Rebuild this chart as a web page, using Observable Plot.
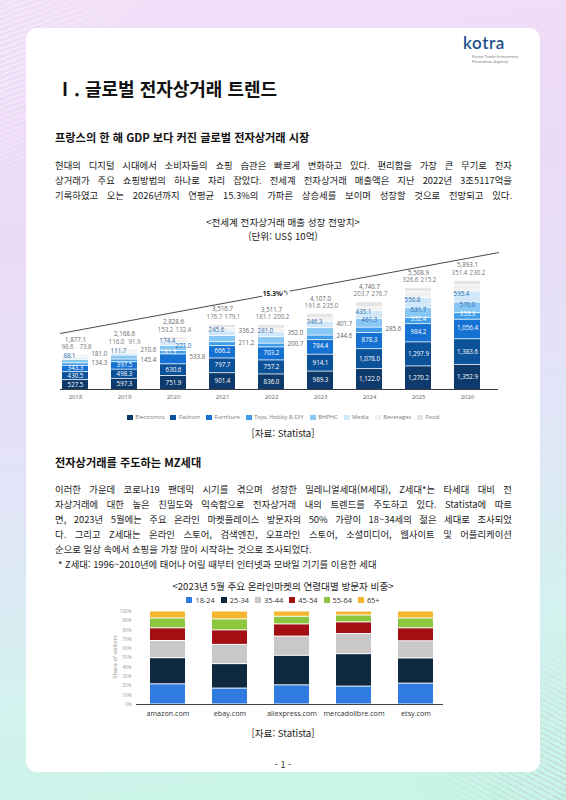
<!DOCTYPE html>
<html lang="ko">
<head>
<meta charset="utf-8">
<script src="https://cdn.jsdelivr.net/npm/d3@7"></script>
<script src="https://cdn.jsdelivr.net/npm/@observablehq/plot@0.6"></script>
<style>
  html, body { margin:0; padding:0; }
  body { width:566px; height:800px; overflow:hidden; font-family:"Noto Sans CJK KR","Noto Sans",sans-serif; color:#111; }
  #page { position:relative; width:566px; height:800px; overflow:hidden;
    background: linear-gradient(170deg, #f2dff8 0%, #ebdaf6 28%, #e2e4f7 55%, #d2f2ee 80%, #c5f5e4 100%); }
  .deco1 { position:absolute; left:-30px; top:-10px; width:240px; height:240px;
    background: repeating-linear-gradient(160deg, rgba(255,255,255,0.6) 0 1px, transparent 1px 5px);
    -webkit-mask-image: radial-gradient(circle at 15% 25%, #000 0%, transparent 62%);
    mask-image: radial-gradient(circle at 15% 25%, #000 0%, transparent 62%); }
  .deco2 { position:absolute; right:-20px; bottom:-10px; width:220px; height:200px;
    background: repeating-linear-gradient(28deg, rgba(200,150,215,0.45) 0 1px, transparent 1px 5px);
    -webkit-mask-image: radial-gradient(circle at 95% 85%, #000 0%, transparent 60%);
    mask-image: radial-gradient(circle at 95% 85%, #000 0%, transparent 60%); }
  .card { position:absolute; left:26px; top:28px; width:514px; height:744px; background:#fff; border-radius:11px; }
  .t { position:absolute; white-space:nowrap; }
  .line { position:absolute; left:55px; width:457px; font-size:9.4px; line-height:14px; color:#222; }
  .jl { text-align:justify; text-align-last:justify; }
  .center { left:0; width:566px; text-align:center; }
  .legend { position:absolute; left:0; width:566px; display:flex; justify-content:center; align-items:center; }
  .legend .item { display:flex; align-items:center; }
  .legend .sw { display:inline-block; }
  #c1, #c2, #c1o { position:absolute; left:0; }
  #c1 svg, #c2 svg, #c1o svg { display:block; overflow:visible; }
  #c1 g[aria-label="x-axis tick label"] { font-size:6px; fill:#666; }
  #c2 g[aria-label="x-axis tick label"] { font-size:7.2px; fill:#333; }
  #c2 g[aria-label="y-axis tick label"] { font-size:4.6px; fill:#999; }
</style>
</head>
<body>
<div id="page">
  <div class="deco1"></div>
  <div class="deco2"></div>
  <div class="card"></div>

  <div class="t" style="left:463px;top:33px;font-family:'Lato','Roboto',sans-serif;font-size:17px;line-height:20px;color:#1d4f8e;font-weight:600;letter-spacing:0.6px;">kotra</div>
  <div class="t" style="left:472px;top:54px;font-family:'Roboto',sans-serif;font-size:4.4px;line-height:5px;color:#8a8a8a;">Korea Trade-Investment<br>Promotion Agency</div>

  <div class="t" style="left:56px;top:76px;font-size:18px;line-height:24px;font-weight:700;color:#111;">Ⅰ. 글로벌 전자상거래 트렌드</div>

  <div class="t" style="left:55px;top:130px;font-size:11.2px;line-height:14px;font-weight:700;color:#111;">프랑스의 한 해 GDP 보다 커진 글로벌 전자상거래 시장</div>

  <div class="line jl" style="top:158px;">현대의 디지털 시대에서 소비자들의 쇼핑 습관은 빠르게 변화하고 있다. 편리함을 가장 큰 무기로 전자</div>
  <div class="line jl" style="top:173px;">상거래가 주요 쇼핑방법의 하나로 자리 잡았다. 전세계 전자상거래 매출액은 지난 2022년 3조5117억을</div>
  <div class="line jl" style="top:188px;">기록하였고 오는 2026년까지 연평균 15.3%의 가파른 상승세를 보이며 성장할 것으로 전망되고 있다.</div>

  <div class="t center" style="top:215px;font-size:9.6px;line-height:14px;color:#222;">&lt;전세계 전자상거래 매출 성장 전망치&gt;</div>
  <div class="t center" style="top:229px;font-size:9.6px;line-height:14px;color:#222;">(단위: US$ 10억)</div>

  <div id="c1" style="top:246px;"></div>
  <div id="c1o" style="top:246px;"></div>
  <div id="legend1" class="legend" style="top:412px;height:10px;"></div>

  <div class="t center" style="top:426px;font-size:9.6px;line-height:14px;color:#222;">[자료: Statista]</div>

  <div class="t" style="left:55px;top:455px;font-size:11.2px;line-height:14px;font-weight:700;color:#111;">전자상거래를 주도하는 MZ세대</div>

  <div class="line jl" style="top:482px;">이러한 가운데 코로나19 팬데믹 시기를 겪으며 성장한 밀레니얼세대(M세대), Z세대*는 타세대 대비 전</div>
  <div class="line jl" style="top:497px;">자상거래에 대한 높은 친밀도와 익숙함으로 전자상거래 내의 트렌드를 주도하고 있다. Statista에 따르</div>
  <div class="line jl" style="top:512px;">면, 2023년 5월에는 주요 온라인 마켓플레이스 방문자의 50% 가량이 18~34세의 젊은 세대로 조사되었</div>
  <div class="line jl" style="top:527px;">다. 그리고 Z세대는 온라인 스토어, 검색엔진, 오프라인 스토어, 소셜미디어, 웹사이트 및 어플리케이션</div>
  <div class="line" style="top:542px;">순으로 일상 속에서 쇼핑을 가장 많이 시작하는 것으로 조사되었다.</div>
  <div class="line" style="top:557px;left:58px;">* Z세대: 1996~2010년에 태어나 어릴 때부터 인터넷과 모바일 기기를 이용한 세대</div>

  <div class="t center" style="top:579px;font-size:9.6px;line-height:14px;color:#222;">&lt;2023년 5월 주요 온라인마켓의 연령대별 방문자 비중&gt;</div>
  <div id="legend2" class="legend" style="top:595px;height:10px;"></div>
  <div id="c2" style="top:604px;"></div>
  <div class="t" style="left:115px;top:657px;font-family:'Open Sans',sans-serif;font-size:5.8px;line-height:7px;color:#8a8a8a;transform:translate(-50%,-50%) rotate(-90deg);">Share of visitors</div>

  <div class="t center" style="top:726px;font-size:9.6px;line-height:14px;color:#222;">[자료: Statista]</div>
  <div class="t center" style="top:758px;font-size:9px;line-height:14px;color:#333;">- 1 -</div>
</div>

<script>
// ---------- Chart 1 data: global e-commerce revenue (US$ bn) ----------
const years = ["2018", "2019", "2020", "2021", "2022", "2023", "2024", "2025", "2026"];
const categories = ["Electronics", "Fashion", "Furniture", "Toys, Hobby & DIY", "BHPHC", "Media", "Beverages", "Food"];
const electronics = [527.5, 597.3, 751.9, 901.4, 836.0, 989.3, 1122.0, 1270.2, 1352.9];
const fashion = [430.5, 498.3, 630.6, 797.7, 757.2, 914.1, 1078.0, 1297.9, 1383.6];
const furniture = [343.3, 397.5, 533.8, 666.2, 703.2, 784.4, 878.3, 984.2, 1056.4];
const toysHobbyDiy = [134.3, 145.4, 181.3, 211.2, 200.7, 244.6, 285.6, 332.4, 353.3];
const bhphc = [181.0, 210.6, 271.0, 336.2, 352.0, 401.7, 461.3, 531.7, 570.0];
const media = [88.1, 111.7, 174.4, 245.6, 281.0, 346.3, 435.1, 550.8, 595.4];
const beverages = [98.6, 116.0, 153.2, 176.7, 181.1, 191.6, 203.7, 326.6, 351.4];
const food = [73.8, 91.9, 132.4, 179.1, 200.2, 235.0, 276.7, 215.2, 230.2];
const totals = [1877.1, 2168.6, 2828.6, 3516.7, 3511.7, 4107.0, 4740.7, 5508.9, 5893.1];
const cagrLabel = "15.3%⁽¹⁾";
const trendPosition = [0, 1];          // start and end of the CAGR line across the frame
const trendValues = [3030, 7400];      // CAGR line values at its two ends

// ---------- Chart 2 data: share of visitors by age, May 2023 (%) ----------
const sites = ["amazon.com", "ebay.com", "aliexpress.com", "mercadolibre.com", "etsy.com"];
const ageGroups = ["18-24", "25-34", "35-44", "45-54", "55-64", "65+"];
const age18to24 = [21.7, 17.1, 20.6, 19.2, 22.4];
const age25to34 = [28.1, 26.3, 31.7, 34.9, 27.1];
const age35to44 = [18.5, 20.7, 20.7, 21.7, 18.5];
const age45to54 = [13.6, 15.6, 13.1, 12.5, 13.9];
const age55to64 = [10.6, 11.8, 8.2, 7.4, 10.6];
const age65plus = [7.5, 8.5, 5.7, 4.3, 7.5];
const shareTicks = [0, 10, 20, 30, 40, 50, 60, 70, 80, 90, 100];

// ---------- styles ----------
const catColors = ["#0e3a6b", "#0c5299", "#1572d3", "#3f9de9", "#88c6f3", "#d0e8f9", "#f1f1f1", "#e5e5e5"];
const ageColors = ["#2f7be0", "#0e2840", "#c8c8c8", "#a30f12", "#8dc63f", "#f4b631"];
const labelFont = "'Open Sans', 'DejaVu Sans', sans-serif";
// label placement (style): labels drawn to the right of the bar
const rightLabels = {
  "Furniture": ["2020"],
  "Toys, Hobby & DIY": ["2018", "2019", "2021", "2022", "2023", "2024"],
  "BHPHC": ["2018", "2019", "2021", "2022", "2023"]
};
// label nudges (style) for crowded small segments
const leftNudge = {"Toys, Hobby & DIY": ["2020"]};
const rightNudge = {"BHPHC": ["2020"]};

const fmt = d3.format(",.1f");
const series1 = [electronics, fashion, furniture, toysHobbyDiy, bhphc, media, beverages, food];
const rows1 = categories.flatMap((c, i) => years.map((y, j) => ({year: y, category: c, value: series1[i][j]})));
const tops = years.map((y, j) => ({year: y, total: totals[j], bev: beverages[j], food: food[j]}));
const inList = (map, d) => (map[d.category] || []).includes(d.year);
const isRight = d => inList(rightLabels, d);
const isTop = d => d.category === "Beverages" || d.category === "Food";
const plain = d => !isRight(d) && !isTop(d) && !inList(leftNudge, d) && !inList(rightNudge, d);
const inside = pred => d => (plain(d) && pred(d)) ? fmt(d.value) : null;
const outside = cat => d => (d.category === cat && isRight(d)) ? fmt(d.value) : null;
const nudged = map => d => inList(map, d) ? fmt(d.value) : null;

const W = 566, H1 = 158;
const m1 = {marginLeft: 60, marginRight: 68, marginTop: 0, marginBottom: 15};
const xBand1 = {type: "band", domain: years, paddingInner: 0.46, paddingOuter: 0.115, align: 0.1};
const yDom1 = [0, 7730];
const stackText = (text, opts) => Plot.text(rows1, Plot.stackY({x: "year", y: "value", z: "category", text, fontSize: 6.2, fontFamily: labelFont, ...opts}));

const chart1 = Plot.plot({
  width: W, height: H1, ...m1,
  style: {background: "transparent", fontFamily: labelFont, fontSize: "6px", color: "#666", overflow: "visible"},
  x: {...xBand1, label: null},
  y: {domain: yDom1, axis: null},
  color: {domain: categories, range: catColors},
  marks: [
    Plot.barY(rows1, {x: "year", y: "value", fill: "category", insetTop: 0.8}),
    Plot.ruleY([0], {stroke: "#3b3b3b", strokeWidth: 1.2}),
    Plot.axisX({tickSize: 0, tickPadding: 5, fontSize: 6, label: null}),
    stackText(inside(d => ["Electronics", "Fashion"].includes(d.category)), {fill: "white"}),
    stackText(inside(d => d.category === "Furniture"), {fill: "white", dy: -1}),
    stackText(inside(d => d.category === "Toys, Hobby & DIY"), {fill: "white", dy: -2}),
    stackText(inside(d => d.category === "BHPHC"), {fill: "#2a69b0", dy: -3}),
    stackText(inside(d => d.category === "Media"), {fill: "#2a69b0", dx: -6, dy: -3}),
    stackText(nudged(leftNudge), {fill: "white", dx: -5, dy: 0}),
    stackText(nudged(rightNudge), {fill: "#2a69b0", dx: 10, dy: -2}),
    stackText(outside("Furniture"), {fill: "#666", textAnchor: "start", dx: 16, dy: -2}),
    stackText(outside("Toys, Hobby & DIY"), {fill: "#666", textAnchor: "start", dx: 16, dy: -1}),
    stackText(outside("BHPHC"), {fill: "#666", textAnchor: "start", dx: 16, dy: -7.5}),
    Plot.text(tops, {x: "year", y: "total", text: d => fmt(d.bev), dy: -7.5, dx: -8, fill: "#777", fontSize: 6.2, fontFamily: labelFont}),
    Plot.text(tops, {x: "year", y: "total", text: d => fmt(d.food), dy: -7.5, dx: 10, fill: "#777", fontSize: 6.2, fontFamily: labelFont}),
    Plot.text(tops, {x: "year", y: "total", text: d => fmt(d.total), dy: -15, fill: "#666", fontSize: 6.2, fontFamily: labelFont})
  ]
});
document.getElementById("c1").append(chart1);

// CAGR trend line overlay spanning the whole frame
const trendLine = trendPosition.map((t, i) => ({t, value: trendValues[i]}));
const labelT = 0.49;
const trendText = [{t: labelT, value: trendValues[0] + labelT * (trendValues[1] - trendValues[0]), text: cagrLabel}];
const overlay = Plot.plot({
  width: W, height: H1, ...m1,
  style: {background: "transparent", overflow: "visible"},
  x: {domain: [0, 1], axis: null},
  y: {domain: yDom1, axis: null},
  marks: [
    Plot.line(trendLine, {x: "t", y: "value", stroke: "#333", strokeWidth: 0.9}),
    Plot.text(trendText, {x: "t", y: "value", text: "text", fill: "#1a1a1a", fontWeight: "bold", fontSize: 6.6, fontFamily: labelFont, stroke: "white", strokeWidth: 5})
  ]
});
document.getElementById("c1o").append(overlay);

// Legend 1
const leg1 = d3.select("#legend1");
categories.forEach((c, i) => {
  const it = leg1.append("div").attr("class", "item").style("margin", "0 3px");
  it.append("span").attr("class", "sw").style("width", "6px").style("height", "5px").style("background", catColors[i]).style("margin-right", "2.5px");
  it.append("span").text(c).style("font-family", labelFont).style("font-size", "5.8px").style("color", "#777");
});

// ---------- Chart 2 ----------
const series2 = [age18to24, age25to34, age35to44, age45to54, age55to64, age65plus];
const rows2 = ageGroups.flatMap((g, i) => sites.map((s, j) => ({site: s, group: g, share: series2[i][j]})));
const chart2 = Plot.plot({
  width: W, height: 120, marginLeft: 136, marginRight: 123, marginTop: 7, marginBottom: 20,
  style: {background: "transparent", fontFamily: labelFont, fontSize: "7px", color: "#333", overflow: "visible"},
  x: {type: "band", domain: sites, paddingInner: 0.44, paddingOuter: 0.184, align: 0.565, label: null},
  y: {domain: [0, 100], label: null},
  color: {domain: ageGroups, range: ageColors},
  marks: [
    Plot.barY(rows2, {x: "site", y: "share", fill: "group", insetTop: 0.5, insetBottom: 0.5}),
    Plot.ruleY([0], {stroke: "#444", strokeWidth: 1}),
    Plot.axisX({tickSize: 0, tickPadding: 6, fontSize: 7.2, label: null}),
    Plot.axisY({ticks: shareTicks, tickFormat: d => d + "%", tickSize: 0, tickPadding: 5, fontSize: 4.6, label: null})
  ]
});
document.getElementById("c2").append(chart2);

// Legend 2
const leg2 = d3.select("#legend2");
ageGroups.forEach((g, i) => {
  const it = leg2.append("div").attr("class", "item").style("margin", "0 3px");
  it.append("span").attr("class", "sw").style("width", "6px").style("height", "6px").style("background", ageColors[i]).style("margin-right", "3px");
  it.append("span").text(g).style("font-family", labelFont).style("font-size", "7.4px").style("color", "#333");
});
</script>
</body>
</html>
